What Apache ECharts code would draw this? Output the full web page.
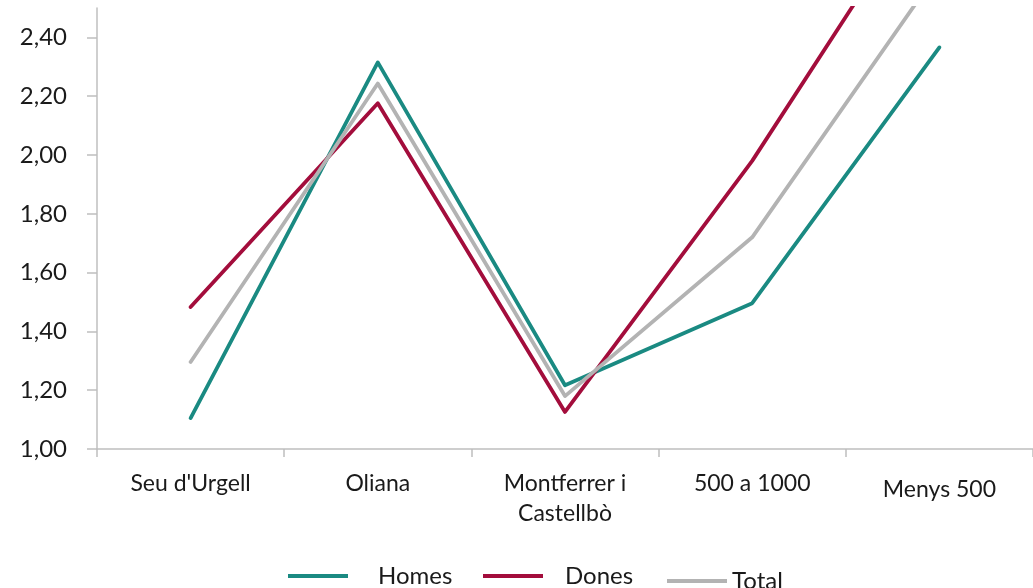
<!DOCTYPE html>
<html>
<head>
<meta charset="utf-8">
<script src="https://cdn.jsdelivr.net/npm/echarts@6/dist/echarts.min.js"></script>
<style>html,body{margin:0;padding:0;background:#fff}#c{width:1033px;height:588px}</style>
</head>
<body>
<div id="c"></div>
<script>
const categories = ["Seu d'Urgell", "Oliana", "Montferrer i\nCastellbò", "500 a 1000", "Menys 500"];
const homes = [1.105, 2.315, 1.217, 1.496, 2.366];
const dones = [1.483, 2.176, 1.126, 1.98, 2.96];
const total = [1.296, 2.243, 1.18, 1.72, 2.63];
const seriesNames = ["Homes", "Dones", "Total"];
const colors = ["#1a8a82", "#a30d3c", "#b3b3b3"];

const FONT = "Lato";
const chart = echarts.init(document.getElementById('c'), null, {renderer: 'canvas'});
const mkSeries = (name, data, color) => ({
  name, type: 'line', data, symbol: 'none', clip: true,
  lineStyle: {color, width: 3.8, cap: 'round', join: 'round'},
  itemStyle: {color}
});
const mkLegend = (name, left, top, pad) => ({
  data: [name], left, top, itemWidth: 60, itemHeight: 14,
  icon: 'path://M0,5.5 L60,5.5 L60,9.5 L0,9.5 Z',
  textStyle: {fontFamily: FONT, fontSize: 24, color: '#1a1a1a', padding: [0, 0, 0, pad]}
});
chart.setOption({
  animation: false,
  grid: {left: 97, top: 8, width: 940, height: 441},
  legend: [
    mkLegend(seriesNames[0], 283, 559, 25),
    mkLegend(seriesNames[1], 478, 559, 17),
    mkLegend(seriesNames[2], 662, 564, 0)
  ],
  xAxis: {
    type: 'category', data: categories, boundaryGap: true,
    axisLine: {lineStyle: {color: '#bfbfbf', width: 1.5}},
    axisTick: {show: true, alignWithLabel: false, length: 8, lineStyle: {color: '#bfbfbf', width: 1.5}},
    axisLabel: {
      interval: 0, margin: 20, fontFamily: FONT, fontSize: 23, color: '#1a1a1a', lineHeight: 30,
      formatter: v => v === 'Menys 500' ? '{m|' + v + '}' : v,
      rich: {m: {fontFamily: FONT, fontSize: 23, color: '#1a1a1a', padding: [12, 0, 0, 0]}}
    }
  },
  yAxis: {
    type: 'value', min: 1, max: 2.5, interval: 0.2,
    axisLine: {show: true, lineStyle: {color: '#bfbfbf', width: 1.5}},
    axisTick: {show: true, length: 10, lineStyle: {color: '#bfbfbf', width: 1.5}},
    splitLine: {show: false},
    axisLabel: {
      margin: 30, fontFamily: FONT, fontSize: 24, color: '#1a1a1a', showMaxLabel: false,
      formatter: v => v.toFixed(2).replace('.', ',')
    }
  },
  series: [
    mkSeries(seriesNames[0], homes, colors[0]),
    mkSeries(seriesNames[1], dones, colors[1]),
    mkSeries(seriesNames[2], total, colors[2])
  ]
});
</script>
</body>
</html>
